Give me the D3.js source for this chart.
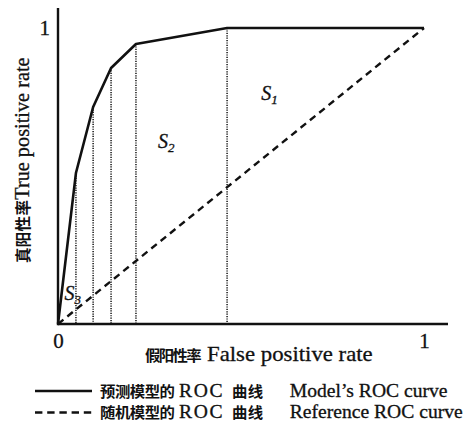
<!DOCTYPE html>
<html>
<head>
<meta charset="utf-8">
<script src="https://cdn.jsdelivr.net/npm/d3@7"></script>
<style>
  html, body { margin: 0; padding: 0; background: #fff; }
  svg { display: block; }
</style>
</head>
<body>
<svg id="chart" width="466" height="427"></svg>
<script>
// ROC curve vertices (false positive rate, true positive rate)
const fpr = [0, 0.049, 0.096, 0.145, 0.213, 0.462, 1];
const tpr = [0, 0.51, 0.733, 0.865, 0.946, 1, 1];
// Reference (random classifier) diagonal
const refFpr = [0, 1];
const refTpr = [0, 1];
// Tick labels
const xTicks = [0, 1];
const yTicks = [1];
// Area labels: [main, subscript, fpr, tpr]
const areaLabels = [
  ["S", "1", 0.555, 0.757],
  ["S", "2", 0.273, 0.595],
  ["S", "3", 0.018, 0.08]
];
// Mixed-script text runs: [text, isCJK, local x offset, letter spacing]
const xTitle = [["假阳性率", true, 0, -1.5], ["False positive rate", false, 58.5, 0]];
const yTitle = [["真阳性率", true, null, 0.3], ["True positive rate", false, null, 0]];
const legendItems = [
  { runs: [["预测模型的", true, 0, -0.45], ["ROC", false, 74.5, 1.6], ["曲线", true, 124.5, 0.5], ["Model’s ROC curve", false, 179, 0]], dash: null },
  { runs: [["随机模型的", true, 0, -0.45], ["ROC", false, 74.5, 1.6], ["曲线", true, 124.5, 0.5], ["Reference ROC curve", false, 179, 0]], dash: "7.4,4.8" }
];

const SERIF = "Liberation Serif";
const CJK = "Noto Sans CJK SC";
const INK = "#111";

function addRuns(sel, runs, latinSize, cjkSize) {
  runs.forEach(([t, isCjk, dx, ls]) => {
    const ts = sel.append("tspan")
      .style("font-family", isCjk ? CJK : SERIF)
      .style("font-size", (isCjk ? cjkSize : latinSize) + "px")
      .style("font-weight", isCjk ? 700 : 400)
      .style("letter-spacing", ls + "px")
      .attr("stroke", isCjk ? null : INK)
      .attr("stroke-width", isCjk ? null : 0.3)
      .text(t);
    if (dx !== null) ts.attr("x", dx);
  });
}

const svg = d3.select("#chart");
const x = d3.scaleLinear().domain([0, 1]).range([58, 424]);
const y = d3.scaleLinear().domain([0, 1]).range([324, 28]);

// Vertical dotted guides from each interior vertex down to the x axis
const vertices = fpr.map((f, i) => ({ f, t: tpr[i] }));
svg.append("g").selectAll("line")
  .data(vertices.slice(1, vertices.length - 1))
  .join("line")
  .attr("x1", d => x(d.f)).attr("x2", d => x(d.f))
  .attr("y1", d => y(d.t)).attr("y2", y(0))
  .attr("stroke", "#222").attr("stroke-width", 1.6)
  .attr("stroke-dasharray", "1.2,1.2");

// Reference diagonal
svg.append("path")
  .datum(refFpr.map((f, i) => ({ f, t: refTpr[i] })))
  .attr("d", d3.line().x(d => x(d.f)).y(d => y(d.t)))
  .attr("fill", "none").attr("stroke", INK)
  .attr("stroke-width", 2.4).attr("stroke-dasharray", "7,5");

// Model ROC curve
svg.append("path")
  .datum(vertices)
  .attr("d", d3.line().x(d => x(d.f)).y(d => y(d.t)))
  .attr("fill", "none").attr("stroke", INK)
  .attr("stroke-width", 2.6).attr("stroke-linejoin", "round");

// Axes (labels only; axis lines drawn separately so they overshoot)
const xAxis = svg.append("g").attr("transform", `translate(0,${y(0)})`)
  .call(d3.axisBottom(x).tickValues(xTicks).tickSize(0).tickPadding(9).tickFormat(d3.format("d")));
xAxis.select(".domain").remove();
xAxis.selectAll("text").style("font-size", "21px").style("font-family", SERIF)
  .attr("fill", INK).attr("stroke", INK).attr("stroke-width", 0.3);

const yAxis = svg.append("g").attr("transform", `translate(${x(0)},0)`)
  .call(d3.axisLeft(y).tickValues(yTicks).tickSize(0).tickPadding(8).tickFormat(d3.format("d")));
yAxis.select(".domain").remove();
yAxis.selectAll("text").style("font-size", "21px").style("font-family", SERIF)
  .attr("fill", INK).attr("stroke", INK).attr("stroke-width", 0.3);

svg.append("line")
  .attr("x1", x(0)).attr("x2", 448).attr("y1", y(0)).attr("y2", y(0))
  .attr("stroke", INK).attr("stroke-width", 2.4);
svg.append("line")
  .attr("x1", x(0)).attr("x2", x(0)).attr("y1", y(0) + 1.2).attr("y2", 8)
  .attr("stroke", INK).attr("stroke-width", 2.4);

// Axis titles
const xt = svg.append("text")
  .attr("transform", "translate(145,361) scale(1.06,1)").attr("fill", INK);
addRuns(xt, xTitle, 21.5, 14.5);
const yt = svg.append("text")
  .attr("transform", "translate(29,263) rotate(-90)").attr("fill", INK);
addRuns(yt, yTitle, 20.3, 15.5);

// Area labels
const lab = svg.append("g").selectAll("text").data(areaLabels).join("text")
  .attr("x", d => x(d[2])).attr("y", d => y(d[3]))
  .style("font-family", SERIF).style("font-size", "20px").style("font-style", "italic")
  .attr("fill", INK).attr("stroke", INK).attr("stroke-width", 0.3);
lab.append("tspan").text(d => d[0]);
lab.append("tspan").style("font-size", "13px").attr("dy", 4).text(d => d[1]);

// Legend
const legendRows = [391, 412.5];
const leg = svg.append("g").selectAll("g").data(legendItems).join("g")
  .attr("transform", (d, i) => `translate(0,${legendRows[i]})`);
leg.append("line")
  .attr("x1", 35).attr("x2", 92).attr("y1", 0).attr("y2", 0)
  .attr("stroke", INK).attr("stroke-width", 2.4)
  .attr("stroke-dasharray", d => d.dash);
leg.each(function (d) {
  const t = d3.select(this).append("text")
    .attr("transform", "translate(100,5.5) scale(1.06,1)").attr("fill", INK);
  addRuns(t, d.runs, 18.5, 14.5);
});
</script>
</body>
</html>
